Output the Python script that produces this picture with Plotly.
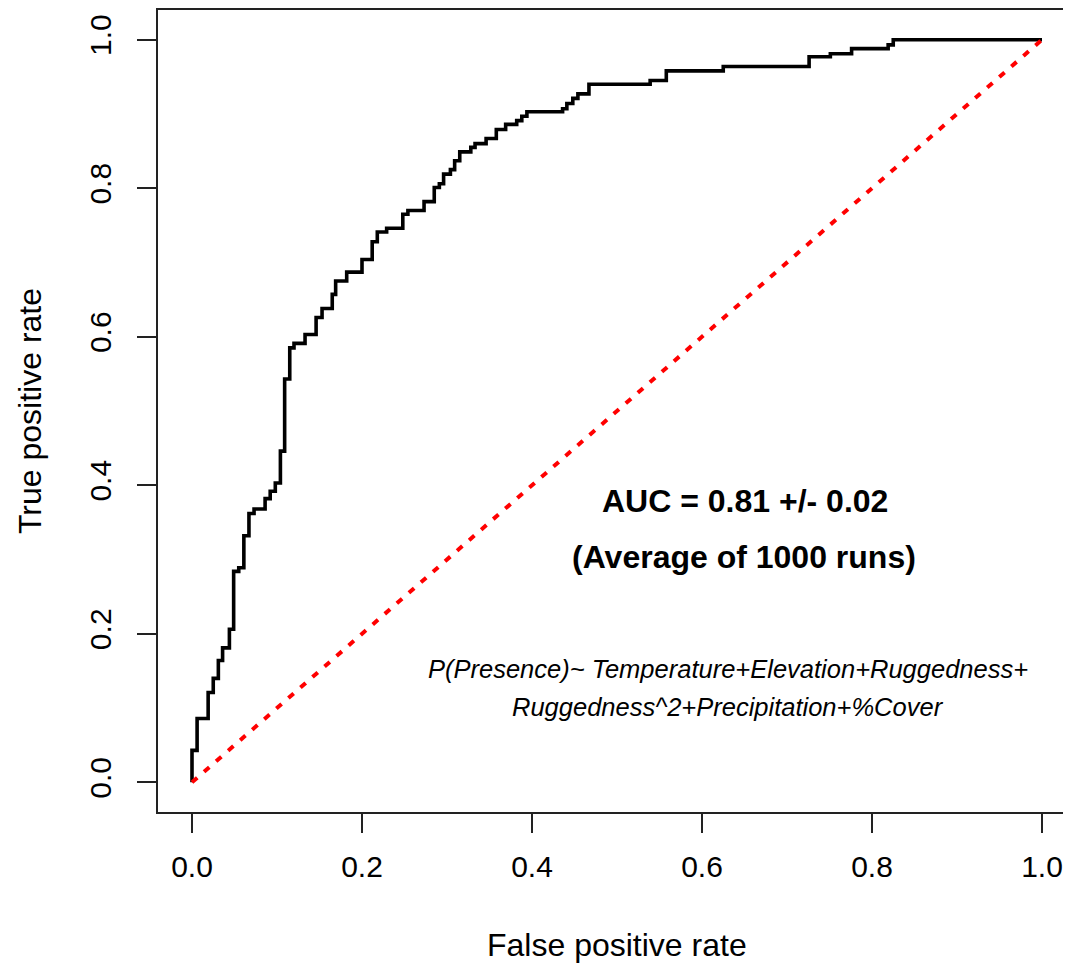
import plotly.graph_objects as go

# ROC curve step points (jump position on FPR, TPR after jump)
fpr = [0.0, 0.0, 0.006, 0.019, 0.025, 0.031, 0.036, 0.044, 0.049, 0.055, 0.061,
       0.067, 0.073, 0.086, 0.092, 0.098, 0.104, 0.109, 0.115, 0.120, 0.133,
       0.146, 0.153, 0.165, 0.169, 0.182, 0.200, 0.212, 0.218, 0.229, 0.248,
       0.254, 0.273, 0.285, 0.291, 0.296, 0.304, 0.309, 0.315, 0.328, 0.333,
       0.346, 0.358, 0.369, 0.382, 0.388, 0.394, 0.436, 0.441, 0.448, 0.454,
       0.467, 0.539, 0.558, 0.625, 0.726, 0.751, 0.776, 0.819, 0.825, 1.0]
tpr = [0.0, 0.043, 0.086, 0.121, 0.140, 0.164, 0.181, 0.206, 0.284, 0.289, 0.332,
       0.362, 0.368, 0.382, 0.392, 0.403, 0.446, 0.543, 0.585, 0.591, 0.603,
       0.626, 0.638, 0.657, 0.675, 0.687, 0.704, 0.728, 0.741, 0.746, 0.765,
       0.770, 0.782, 0.801, 0.806, 0.819, 0.825, 0.837, 0.849, 0.855, 0.860,
       0.867, 0.879, 0.886, 0.891, 0.897, 0.903, 0.907, 0.914, 0.921, 0.927,
       0.940, 0.945, 0.958, 0.964, 0.977, 0.981, 0.988, 0.993, 1.0, 1.0]
diag_x = [0.0, 1.0]
diag_y = [0.0, 1.0]
tick_vals = [0.0, 0.2, 0.4, 0.6, 0.8, 1.0]
tick_text = ["0.0", "0.2", "0.4", "0.6", "0.8", "1.0"]

FONT = "Liberation Sans, Arial, sans-serif"

fig = go.Figure()
fig.add_trace(go.Scatter(x=fpr, y=tpr, mode="lines", line_shape="hv",
                         line=dict(color="black", width=3.6), hoverinfo="skip"))
fig.add_trace(go.Scatter(x=diag_x, y=diag_y, mode="lines",
                         line=dict(color="#ff0000", width=4, dash="7px,9px"),
                         hoverinfo="skip"))

# page has an 8px body margin, so figure coords = page coords - 8
OFF = 8
W, H = 1071 - OFF, 964 - OFF
L, R, T, B = 158 - OFF, 0, 0, H - (812 - OFF)
pw = W - L - R
ph = H - T - B

fig.update_layout(
    width=W, height=H,
    margin=dict(l=L, r=R, t=T, b=B, pad=0),
    paper_bgcolor="white", plot_bgcolor="white",
    showlegend=False,
    font=dict(family=FONT, color="black"),
    xaxis=dict(range=[-0.04, -0.04 + pw / 850.0], showgrid=False, zeroline=False,
               showline=True, mirror=True, linecolor="#222", linewidth=2,
               ticks="outside", ticklen=19, tickwidth=2, tickcolor="#222",
               tickvals=tick_vals, ticktext=tick_text,
               tickfont=dict(size=30, family=FONT, color="black"),
               ticklabelstandoff=8),
    yaxis=dict(range=[-0.04, 1.04], showgrid=False, zeroline=False,
               showline=True, mirror=False, linecolor="#222", linewidth=2,
               ticks="outside", ticklen=19, tickwidth=2, tickcolor="#222",
               tickvals=tick_vals, ticktext=tick_text, tickangle=-90,
               tickfont=dict(size=30, family=FONT, color="black"),
               ticklabelstandoff=14),
)

def px_to_paper_x(px):
    return (px - 158) / pw

def py_to_paper_y(py):
    return (812 - py) / ph

fig.add_annotation(text="False positive rate", xref="paper", yref="paper",
                   x=px_to_paper_x(617), y=py_to_paper_y(945),
                   xanchor="center", yanchor="middle", showarrow=False,
                   font=dict(size=32, family=FONT, color="black"))
fig.add_annotation(text="True positive rate", xref="paper", yref="paper",
                   x=px_to_paper_x(30), y=py_to_paper_y(410), textangle=-90,
                   xanchor="center", yanchor="middle", showarrow=False,
                   font=dict(size=32, family=FONT, color="black"))

fig.add_annotation(text="<b>AUC = 0.81 +/- 0.02</b>", x=0.6506, y=0.379,
                   xanchor="center", yanchor="middle", showarrow=False,
                   font=dict(size=32, family=FONT, color="black"))
fig.add_annotation(text="<b>(Average of 1000 runs)</b>", x=0.6494, y=0.304,
                   xanchor="center", yanchor="middle", showarrow=False,
                   font=dict(size=32, family=FONT, color="black"))
fig.add_annotation(text="<i>P(Presence)~ Temperature+Elevation+Ruggedness+</i>",
                   x=0.630, y=0.153, xanchor="center", yanchor="middle", showarrow=False,
                   font=dict(size=25.5, family=FONT, color="black"))
fig.add_annotation(text="<i>Ruggedness^2+Precipitation+%Cover</i>",
                   x=0.630, y=0.102, xanchor="center", yanchor="middle", showarrow=False,
                   font=dict(size=25.5, family=FONT, color="black"))

fig.write_html("out.html")
